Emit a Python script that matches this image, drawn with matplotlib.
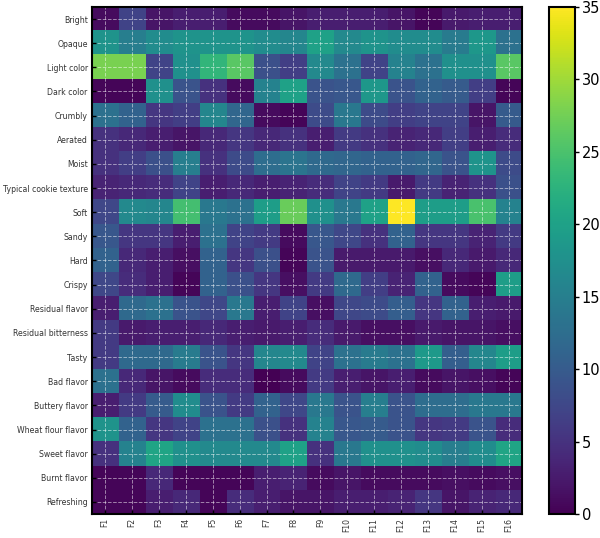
import numpy as np
import matplotlib
matplotlib.use("Agg")
import matplotlib.pyplot as plt

attributes = ["Bright", "Opaque", "Light color", "Dark color", "Crumbly", "Aerated",
              "Moist", "Typical cookie texture", "Soft", "Sandy", "Hard", "Crispy",
              "Residual flavor", "Residual bitterness", "Tasty", "Bad flavor",
              "Buttery flavor", "Wheat flour flavor", "Sweet flavor", "Burnt flavor",
              "Refreshing"]
formulations = [f"F{i}" for i in range(1, 17)]

# valori stimati dalla figura (righe = attributi, colonne = F1..F16)
bright = [1, 7, 2, 3, 3, 1, 1, 2, 3, 3, 3, 2, 0.5, 2.5, 3, 3]
opaque = [18, 15, 17, 18, 18, 18, 17, 16, 20, 16.5, 18, 17, 17, 14.5, 18.5, 13]
light_color = [28, 28, 7, 17.5, 23, 26, 8.5, 6.5, 16.5, 13, 7, 15.5, 13, 17.5, 17.5, 26]
dark_color = [0.5, 0.5, 17.5, 9, 5, 1, 15.5, 20, 9, 9.5, 18.5, 9, 11, 10, 6.5, 0.5]
crumbly = [13, 11, 5.5, 6.5, 16, 11.5, 1, 0.5, 8, 14, 8, 6.5, 7, 7, 2, 10]
aerated = [5, 4, 3, 2, 4, 5.5, 4, 5, 3, 6, 5, 3.5, 4, 6.5, 3, 4.5]
moist = [5, 6.5, 8.5, 15, 5, 8, 12.5, 13.5, 12, 11.5, 11, 11, 11.5, 9, 18, 8]
cookie_texture = [3.5, 4, 4.5, 7, 3, 4, 3, 3.5, 4.5, 7, 6, 2.5, 6, 3.5, 5, 8.5]
soft = [7.5, 16.5, 16, 24.5, 14, 13, 19.5, 27, 17.5, 14, 20, 35, 19.5, 19.5, 25, 15.5]
sandy = [9.5, 5.5, 5.5, 3, 13, 7, 6, 1, 9.5, 7.5, 5, 11, 5.5, 5.5, 3.5, 6]
hard = [11, 4, 3, 1.5, 11, 5.5, 8.5, 0.5, 9, 2.5, 2.5, 2.5, 1.5, 4, 2.5, 4]
crispy = [7.5, 4.5, 3, 0.5, 11, 8.5, 5.5, 1.5, 6, 12, 6.5, 3.5, 11, 1, 0.5, 19.5]
residual_flavor = [3, 12, 13, 9, 7.5, 14, 3, 7, 1.5, 7.5, 8, 10.5, 5.5, 11, 3, 2.5]
residual_bitterness = [6, 2.5, 3, 3, 4, 3, 2.5, 3, 4.5, 2.5, 1.5, 1.5, 2.5, 2, 2, 1.5]
tasty = [6, 12, 12, 14.5, 9, 5.5, 16, 16.5, 7, 13, 14.5, 13, 19, 10.5, 16, 19.5]
bad_flavor = [13, 4, 2, 1, 4.5, 4.5, 0, 1, 6, 3, 2, 3, 1, 2, 1.5, 0.5]
buttery = [3, 6, 10, 17, 9, 6, 11, 7.5, 14, 9, 15, 9, 12.5, 12.5, 14, 14]
wheat_flour = [18, 11, 5.5, 7, 13, 13, 8.5, 5, 15.5, 9.5, 10, 9, 5.5, 6, 9, 4.5]
sweet = [5, 15.5, 20.5, 17.5, 16.5, 16.5, 16.5, 20, 5, 14, 17.5, 17.5, 17, 15, 17, 20.5]
burnt = [0.5, 0.5, 4, 0.5, 0.5, 0.5, 3, 3.5, 1, 2, 1, 1, 1, 1.5, 1, 1.5]
refreshing = [0.5, 0.5, 3, 4, 0.5, 4.5, 3, 2, 2, 3, 3, 3.5, 5.5, 2, 3.5, 4]

data = np.array([bright, opaque, light_color, dark_color, crumbly, aerated, moist,
                 cookie_texture, soft, sandy, hard, crispy, residual_flavor,
                 residual_bitterness, tasty, bad_flavor, buttery, wheat_flour,
                 sweet, burnt, refreshing])

fig = plt.figure(figsize=(6, 5.38), dpi=100)
ax = fig.add_axes([0.153, 0.0446, 0.717, 0.9424])
cax = fig.add_axes([0.915, 0.0446, 0.043, 0.9424])

im = ax.imshow(data, cmap="viridis", aspect="auto", vmin=0, vmax=35, interpolation="nearest")

ax.set_xticks(np.arange(len(formulations)))
ax.set_xticklabels(formulations, rotation=90, fontsize=5.5, color="#333333")
ax.set_yticks(np.arange(len(attributes)))
ax.set_yticklabels(attributes, fontsize=5.6, color="#333333")
ax.tick_params(direction="in", length=3, width=1, pad=3)
ax.grid(True, color="white", linestyle="--", linewidth=0.7, alpha=0.5)
for s in ax.spines.values():
    s.set_linewidth(1.5)

cb = fig.colorbar(im, cax=cax)
cb.set_ticks([0, 5, 10, 15, 20, 25, 30, 35])
cb.ax.tick_params(labelsize=10.5, length=3, width=1, pad=2)
cb.outline.set_linewidth(1.5)

fig.savefig("out.png", dpi=100)
